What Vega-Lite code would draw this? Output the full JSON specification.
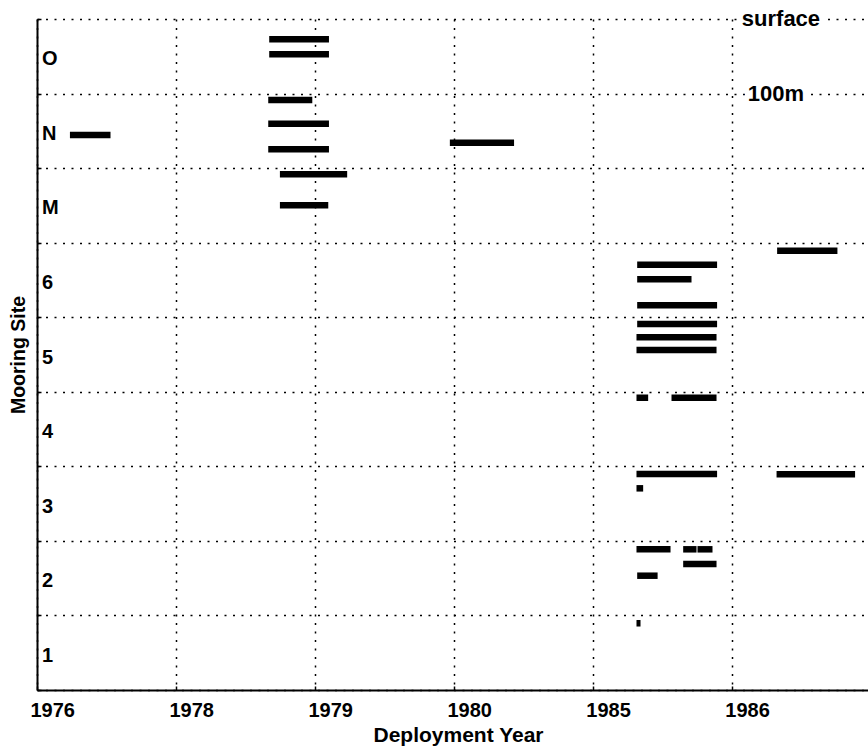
{
  "$schema": "https://vega.github.io/schema/vega-lite/v6.json",
  "width": 831,
  "height": 671,
  "autosize": {"type": "none"},
  "padding": {"left": 37, "top": 19, "right": 0, "bottom": 60},
  "background": "white",
  "config": {
    "view": {"stroke": null},
    "font": "Liberation Sans",
    "text": {"font": "Liberation Sans"}
  },
  "datasets": {
    "deployments": [
      {"site": "N", "start": 0.237, "end": 0.529, "y": 7.444},
      {"site": "O", "start": 1.671, "end": 2.101, "y": 8.727},
      {"site": "O", "start": 1.671, "end": 2.101, "y": 8.526},
      {"site": "N", "start": 1.664, "end": 1.981, "y": 7.913},
      {"site": "N", "start": 1.664, "end": 2.101, "y": 7.595},
      {"site": "N", "start": 1.664, "end": 2.101, "y": 7.252},
      {"site": "M", "start": 1.748, "end": 2.232, "y": 6.917},
      {"site": "M", "start": 1.748, "end": 2.096, "y": 6.501},
      {"site": "N", "start": 2.971, "end": 3.433, "y": 7.341},
      {"site": "6", "start": 5.326, "end": 5.760, "y": 5.892},
      {"site": "6", "start": 4.319, "end": 4.894, "y": 5.704},
      {"site": "6", "start": 4.319, "end": 4.710, "y": 5.508},
      {"site": "6", "start": 4.319, "end": 4.894, "y": 5.160},
      {"site": "5", "start": 4.319, "end": 4.894, "y": 4.909},
      {"site": "5", "start": 4.314, "end": 4.890, "y": 4.730},
      {"site": "5", "start": 4.314, "end": 4.890, "y": 4.560},
      {"site": "4", "start": 4.314, "end": 4.398, "y": 3.920},
      {"site": "4", "start": 4.566, "end": 4.890, "y": 3.920},
      {"site": "3", "start": 4.314, "end": 4.894, "y": 2.897},
      {"site": "3", "start": 5.322, "end": 5.887, "y": 2.893},
      {"site": "3", "start": 4.314, "end": 4.362, "y": 2.705},
      {"site": "2", "start": 4.314, "end": 4.559, "y": 1.887},
      {"site": "2", "start": 4.650, "end": 4.746, "y": 1.887},
      {"site": "2", "start": 4.753, "end": 4.861, "y": 1.887},
      {"site": "2", "start": 4.650, "end": 4.890, "y": 1.690},
      {"site": "2", "start": 4.319, "end": 4.466, "y": 1.533},
      {"site": "1", "start": 4.314, "end": 4.343, "y": 0.895}
    ],
    "sites": [
      {"site": "O", "center": 8.5},
      {"site": "N", "center": 7.5},
      {"site": "M", "center": 6.5},
      {"site": "6", "center": 5.5},
      {"site": "5", "center": 4.5},
      {"site": "4", "center": 3.5},
      {"site": "3", "center": 2.5},
      {"site": "2", "center": 1.5},
      {"site": "1", "center": 0.5}
    ],
    "notes": [
      {"label": "surface", "x": 5.072, "y": 9},
      {"label": "100m", "x": 5.115, "y": 8}
    ]
  },
  "layer": [
    {
      "data": {"name": "deployments"},
      "mark": {"type": "rule", "color": "black", "strokeWidth": 6.5, "strokeCap": "butt"},
      "encoding": {
        "x": {
          "field": "start",
          "type": "quantitative",
          "scale": {"domain": [0, 5.98], "nice": false, "zero": false},
          "axis": {
            "values": [0, 1, 2, 3, 4, 5],
            "labelExpr": "['1976','1978','1979','1980','1985','1986'][datum.value]",
            "labelAlign": "left",
            "labelOffset": -7,
            "labelFontSize": 20,
            "labelFontWeight": "bold",
            "labelFont": "Liberation Sans",
            "labelColor": "black",
            "labelPadding": 14,
            "labelFlush": false,
            "labelOverlap": false,
            "tickSize": -4,
            "tickColor": "black",
            "tickWidth": 1.5,
            "grid": true,
            "gridColor": "black",
            "gridDash": [2, 6.5],
            "gridWidth": 1.5,
            "gridOpacity": 1,
            "domainColor": "black",
            "domainWidth": 2,
            "title": "Deployment Year",
            "titleFont": "Liberation Sans",
            "titleFontSize": 21,
            "titleFontWeight": "bold",
            "titleColor": "black",
            "titleX": 421,
            "titleY": 45,
            "titleAlign": "center",
            "titleBaseline": "middle"
          }
        },
        "x2": {"field": "end"},
        "y": {
          "field": "y",
          "type": "quantitative",
          "scale": {"domain": [0, 9], "nice": false, "zero": false},
          "axis": {
            "values": [0, 1, 2, 3, 4, 5, 6, 7, 8, 9],
            "labels": false,
            "tickSize": -4,
            "tickColor": "black",
            "tickWidth": 1.5,
            "grid": true,
            "gridColor": "black",
            "gridDash": [2, 6.5],
            "gridWidth": 1.5,
            "gridOpacity": 1,
            "domainColor": "black",
            "domainWidth": 2,
            "title": "Mooring Site",
            "titleFont": "Liberation Sans",
            "titleFontSize": 19.5,
            "titleFontWeight": "bold",
            "titleColor": "black",
            "titleAngle": 270,
            "titleX": -19,
            "titleY": 335.5,
            "titleAlign": "center",
            "titleBaseline": "middle"
          }
        }
      }
    },
    {
      "data": {"name": "sites"},
      "mark": {"type": "text", "align": "left", "baseline": "middle", "dx": 5, "dy": 3, "fontSize": 20, "fontWeight": "bold", "color": "black"},
      "encoding": {
        "x": {"datum": 0, "type": "quantitative"},
        "y": {"field": "center", "type": "quantitative"},
        "text": {"field": "site"}
      }
    },
    {
      "data": {"name": "notes"},
      "mark": {"type": "text", "align": "left", "baseline": "middle", "fontSize": 22, "fontWeight": "bold", "fill": "white", "stroke": "white", "strokeWidth": 8},
      "encoding": {
        "x": {"field": "x", "type": "quantitative"},
        "y": {"field": "y", "type": "quantitative"},
        "text": {"field": "label"}
      }
    },
    {
      "data": {"name": "notes"},
      "mark": {"type": "text", "align": "left", "baseline": "middle", "fontSize": 22, "fontWeight": "bold", "color": "black"},
      "encoding": {
        "x": {"field": "x", "type": "quantitative"},
        "y": {"field": "y", "type": "quantitative"},
        "text": {"field": "label"}
      }
    }
  ]
}
